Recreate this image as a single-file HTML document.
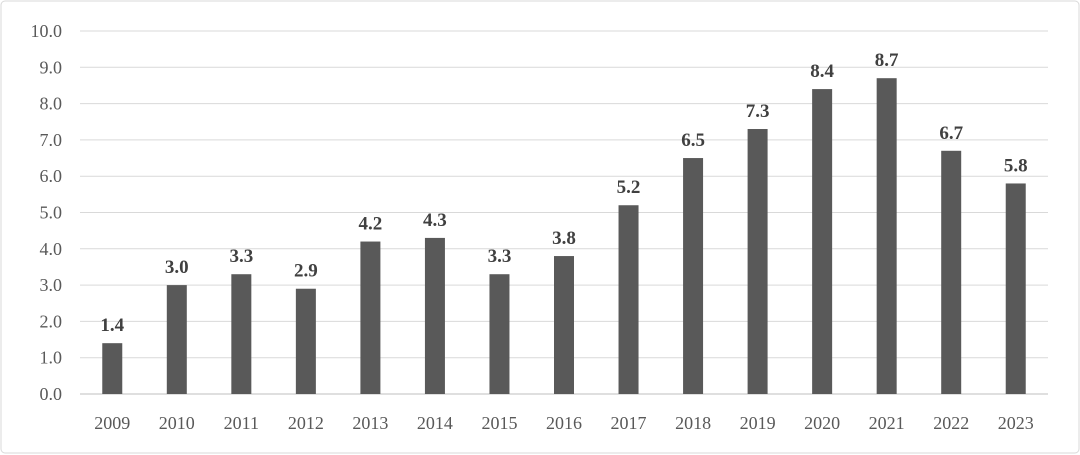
<!DOCTYPE html>
<html><head><meta charset="utf-8">
<style>
html,body{margin:0;padding:0;background:#fff;}
#wrap{width:1080px;height:455px;position:relative;overflow:hidden;}
svg text{font-family:"Liberation Serif",serif;}
</style></head>
<body>
<div id="wrap">
<svg id="chart" width="1080" height="455">
<rect x="1" y="1" width="1078" height="452" rx="4" fill="#fff" stroke="#d9d9d9"/>
</svg>
</div>
<script>
const categories=["2009","2010","2011","2012","2013","2014","2015","2016","2017","2018","2019","2020","2021","2022","2023"];
const values=[1.4,3.0,3.3,2.9,4.2,4.3,3.3,3.8,5.2,6.5,7.3,8.4,8.7,6.7,5.8];
const valueLabels=["1.4","3.0","3.3","2.9","4.2","4.3","3.3","3.8","5.2","6.5","7.3","8.4","8.7","6.7","5.8"];
const yTicks=[0,1,2,3,4,5,6,7,8,9,10];
const yTickLabels=["0.0","1.0","2.0","3.0","4.0","5.0","6.0","7.0","8.0","9.0","10.0"];

const svg=document.getElementById('chart');
const NS="http://www.w3.org/2000/svg";
const left=80,right=1048,y0=394,y10=31;
const y=v=>y0-(v/10)*(y0-y10);
const step=(right-left)/categories.length;
const x=i=>left+step*(i+0.5);
const barW=20;
function mk(tag,attrs){const e=document.createElementNS(NS,tag);for(const k in attrs)e.setAttribute(k,attrs[k]);svg.appendChild(e);return e;}

yTicks.forEach((t,i)=>{
  const g=mk('line',{x1:left,x2:right,y1:y(t),y2:y(t),stroke:t===0?'#bfbfbf':'#d9d9d9','stroke-width':1});
  
  
  const tx=mk('text',{x:62,y:y(t)+6,'text-anchor':'end','font-size':18,fill:'#595959'});
  tx.textContent=yTickLabels[i];
  
  
});
categories.forEach((c,i)=>{
  const b=mk('rect',{x:x(i)-barW/2,y:y(values[i]),width:barW,height:y0-y(values[i]),fill:'#595959'});
  
  
  const vl=mk('text',{x:x(i),y:y(values[i])-12,'text-anchor':'middle','font-size':19,'font-weight':'bold',fill:'#404040'});
  vl.textContent=valueLabels[i];
  
  
  const xl=mk('text',{x:x(i),y:429,'text-anchor':'middle','font-size':18,fill:'#595959'});
  xl.textContent=c;
  
  
});
</script>
</body></html>
